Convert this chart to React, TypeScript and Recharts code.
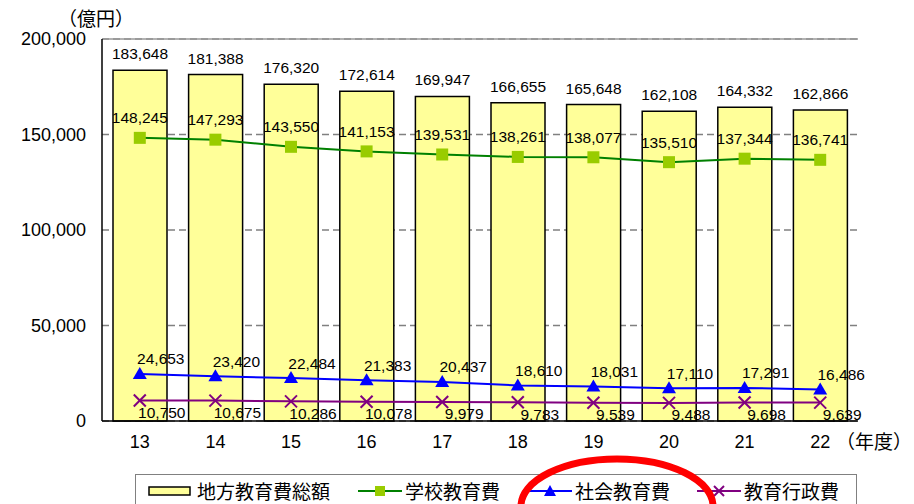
import {
  ComposedChart,
  Bar,
  Line,
  XAxis,
  YAxis,
  CartesianGrid,
  LabelList,
  ReferenceLine,
} from "recharts";

const years = ["13", "14", "15", "16", "17", "18", "19", "20", "21", "22"];
const totalSpend = [183648, 181388, 176320, 172614, 169947, 166655, 165648, 162108, 164332, 162866];
const schoolSpend = [148245, 147293, 143550, 141153, 139531, 138261, 138077, 135510, 137344, 136741];
const socialSpend = [24653, 23420, 22484, 21383, 20437, 18610, 18031, 17110, 17291, 16486];
const adminSpend = [10750, 10675, 10286, 10078, 9979, 9783, 9539, 9488, 9698, 9639];
const yTicks = [0, 50000, 100000, 150000, 200000];
const seriesNames = ["地方教育費総額", "学校教育費", "社会教育費", "教育行政費"];

const rows = years.map((year, i) => ({
  year,
  total: totalSpend[i],
  school: schoolSpend[i],
  social: socialSpend[i],
  admin: adminSpend[i],
}));

const NUM_FONT = "'Liberation Sans', Arial, sans-serif";
const JP_FONT = "'Noto Sans CJK JP', sans-serif";

const fmt = (v: number) => v.toLocaleString("en-US");

// label renderer: dx/dy relative to the point (bar top centre or marker)
function makeLabel(dx: number, dy: number, isBar = false) {
  return (props: any) => {
    const vb = props.viewBox ?? props;
    const x = (vb.x ?? props.x) + (isBar ? (vb.width ?? props.width) / 2 : 0);
    const y = vb.y ?? props.y;
    return (
      <text
        x={x + dx}
        y={y + dy}
        textAnchor="middle"
        fontSize={15.5}
        fontFamily={NUM_FONT}
        fill="#000"
      >
        {fmt(Number(props.value))}
      </text>
    );
  };
}

const SquareDot = (p: any) => (
  <rect key={`sq-${p.index}`} x={p.cx - 6} y={p.cy - 6} width={12} height={12} fill="#99cc00" />
);

const TriangleDot = (p: any) => (
  <polygon
    key={`tr-${p.index}`}
    points={`${p.cx},${p.cy - 7} ${p.cx + 7},${p.cy + 5} ${p.cx - 7},${p.cy + 5}`}
    fill="#0000ff"
  />
);

const CrossDot = (p: any) => (
  <g key={`x-${p.index}`} stroke="#800080" strokeWidth={2}>
    <line x1={p.cx - 6} y1={p.cy - 6} x2={p.cx + 6} y2={p.cy + 6} />
    <line x1={p.cx - 6} y1={p.cy + 6} x2={p.cx + 6} y2={p.cy - 6} />
  </g>
);

function LegendIcon({ kind }: { kind: number }) {
  if (kind === 0) {
    return (
      <svg width={44} height={12}>
        <rect x={1} y={2} width={41} height={8} fill="#ffff99" stroke="#000" strokeWidth={1.5} />
      </svg>
    );
  }
  const color = ["", "#008000", "#0000ff", "#800080"][kind];
  return (
    <svg width={44} height={14}>
      <line x1={0} y1={7} x2={44} y2={7} stroke={color} strokeWidth={2} />
      {kind === 1 && <rect x={17} y={2} width={10} height={10} fill="#99cc00" />}
      {kind === 2 && <polygon points="22,1 28,12 16,12" fill="#0000ff" />}
      {kind === 3 && (
        <g stroke="#800080" strokeWidth={2}>
          <line x1={17} y1={2} x2={27} y2={12} />
          <line x1={17} y1={12} x2={27} y2={2} />
        </g>
      )}
    </svg>
  );
}

const legendLeft = [148, 358, 528, 697];

export default function App() {
  document.body.style.margin = "0";
  return (
    <div style={{ position: "relative", width: 914, height: 504, overflow: "hidden", background: "#fff" }}>
      <ComposedChart
        width={914}
        height={504}
        data={rows}
        margin={{ top: 39, right: 56, bottom: 53, left: 0 }}
        barCategoryGap={0}
      >
        <CartesianGrid vertical={false} stroke="#808080" strokeDasharray="7 4" strokeWidth={1.5} />
        <XAxis
          dataKey="year"
          height={30}
          tickSize={0}
          tickMargin={14}
          axisLine={{ stroke: "#000", strokeWidth: 1.5 }}
          tick={{ fontSize: 18, fontFamily: NUM_FONT, fill: "#000" }}
        />
        <YAxis
          width={102}
          domain={[0, 200000]}
          ticks={yTicks}
          tickFormatter={fmt}
          tickSize={0}
          tickMargin={16}
          axisLine={{ stroke: "#000", strokeWidth: 1.5 }}
          tick={{ fontSize: 18, fontFamily: NUM_FONT, fill: "#000" }}
        />
        <YAxis
          yAxisId="frame"
          orientation="right"
          width={0}
          domain={[0, 200000]}
          tick={false}
          tickLine={false}
          axisLine={{ stroke: "#999", strokeWidth: 2.5 }}
        />
        <ReferenceLine y={200000} stroke="#999" strokeWidth={1.5} />
        <Bar
          dataKey="total"
          barSize={54}
          fill="#ffff99"
          stroke="#000"
          strokeWidth={1.5}
          isAnimationActive={false}
        >
          <LabelList dataKey="total" content={makeLabel(0, -11, true)} />
        </Bar>
        <Line
          dataKey="school"
          stroke="#008000"
          strokeWidth={2}
          dot={SquareDot}
          isAnimationActive={false}
        >
          <LabelList dataKey="school" content={makeLabel(0, -14.5)} />
        </Line>
        <Line
          dataKey="social"
          stroke="#0000ff"
          strokeWidth={2}
          dot={TriangleDot}
          isAnimationActive={false}
        >
          <LabelList dataKey="social" content={makeLabel(21, -9.5)} />
        </Line>
        <Line
          dataKey="admin"
          stroke="#800080"
          strokeWidth={2}
          dot={CrossDot}
          isAnimationActive={false}
        >
          <LabelList dataKey="admin" content={makeLabel(22, 17.5)} />
        </Line>
      </ComposedChart>

      <div style={{ position: "absolute", left: 58, top: 4, fontSize: 19, fontFamily: JP_FONT }}>（億円）</div>
      <div style={{ position: "absolute", left: 836, top: 427, fontSize: 19, fontFamily: JP_FONT }}>（年度）</div>

      <div
        style={{
          position: "absolute",
          left: 135,
          top: 474,
          width: 720,
          height: 40,
          border: "1.5px solid #808080",
          background: "#fff",
        }}
      />
      {seriesNames.map((name, i) => (
        <div
          key={name}
          style={{
            position: "absolute",
            left: legendLeft[i],
            top: 478,
            height: 26,
            display: "flex",
            alignItems: "center",
            fontSize: 19,
            lineHeight: "22px",
            fontFamily: JP_FONT,
            whiteSpace: "nowrap",
          }}
        >
          <LegendIcon kind={i} />
          <span style={{ marginLeft: i === 0 ? 5 : 3 }}>{name}</span>
        </div>
      ))}

      <svg width={914} height={504} style={{ position: "absolute", left: 0, top: 0, pointerEvents: "none" }}>
        <ellipse cx={617} cy={506} rx={96} ry={47} fill="none" stroke="#ff0000" strokeWidth={7} />
      </svg>
    </div>
  );
}
